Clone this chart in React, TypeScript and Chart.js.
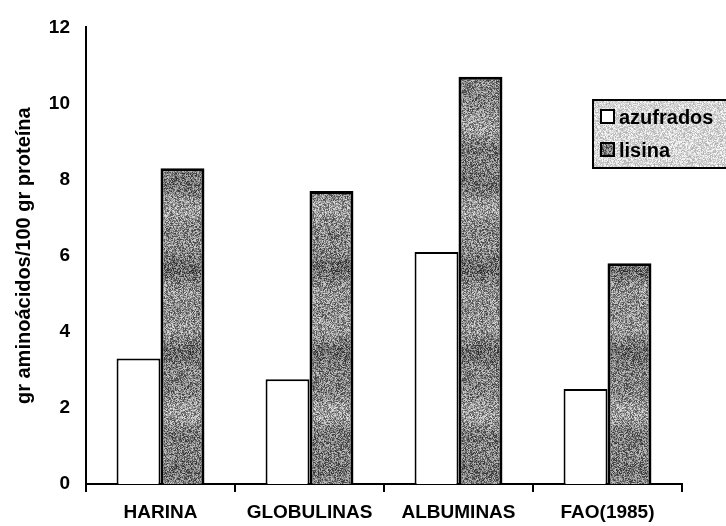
import React, { useEffect, useRef } from "react";
import { Chart, registerables } from "chart.js";

Chart.register(...registerables);

// Amino acid content (g per 100 g protein)
const categories = ["HARINA", "GLOBULINAS", "ALBUMINAS", "FAO(1985)"];
const azufrados = [3.3, 2.75, 6.1, 2.5];
const lisina = [8.3, 7.7, 10.7, 5.8];
const seriesNames = ["azufrados", "lisina"];
const yTickValues = [0, 2, 4, 6, 8, 10, 12];
const yTitle = "gr aminoácidos/100 gr proteína";

const FONT = "'Liberation Sans', Arial, Helvetica, sans-serif";

// deterministic integer hash -> [0,1)
function hash2(x: number, y: number, seed: number): number {
  let h = (x * 374761393 + y * 668265263 + seed * 982451653) | 0;
  h = Math.imul(h ^ (h >>> 13), 1274126177);
  h = h ^ (h >>> 16);
  return (h >>> 0) / 4294967296;
}

// speckled grey texture used for the shaded bars and the legend panel
function makeTexture(w: number, h: number, base: number, spread: number, band: number, seed: number) {
  const c = document.createElement("canvas");
  c.width = w;
  c.height = h;
  const g = c.getContext("2d")!;
  const img = g.createImageData(w, h);
  for (let y = 0; y < h; y++) {
    const wave = band * (Math.sin((y / h) * Math.PI * 2 * 3) * 0.6 + Math.sin((y / h) * Math.PI * 2 * 7 + 1.3) * 0.4);
    for (let x = 0; x < w; x++) {
      const n = hash2(x, y, seed) - 0.5;
      let v = base + wave + n * spread;
      v = Math.max(0, Math.min(255, v));
      const i = (y * w + x) * 4;
      img.data[i] = v;
      img.data[i + 1] = v;
      img.data[i + 2] = v;
      img.data[i + 3] = 255;
    }
  }
  g.putImageData(img, 0, 0);
  return c;
}

export default function App() {
  const ref = useRef<HTMLCanvasElement | null>(null);

  useEffect(() => {
    const canvas = ref.current!;
    const ctx = canvas.getContext("2d")!;
    const barFill = ctx.createPattern(makeTexture(96, 288, 132, 150, 26, 7), "repeat")!;
    const panelFill = ctx.createPattern(makeTexture(64, 64, 214, 80, 0, 3), "repeat")!;

    const fills = ["#ffffff", barFill];

    // boxed legend in the upper right, partly running off the canvas edge
    const boxLegend = {
      id: "boxLegend",
      afterDraw(chart: any) {
        const c = chart.ctx;
        const x = 593, y = 100, w = 140, h = 68;
        c.save();
        c.fillStyle = panelFill;
        c.fillRect(x, y, w, h);
        c.lineWidth = 2;
        c.strokeStyle = "#000";
        c.strokeRect(x, y, w, h);
        c.font = `bold 20px ${FONT}`;
        c.textBaseline = "middle";
        c.textAlign = "left";
        seriesNames.forEach((name, i) => {
          const cy = y + 17 + i * 33;
          c.fillStyle = fills[i];
          c.fillRect(601, cy - 7, 13, 13);
          c.lineWidth = 2;
          c.strokeStyle = "#000";
          c.strokeRect(601, cy - 7, 13, 13);
          c.fillStyle = "#000";
          c.fillText(name, 619, cy + 1);
        });
        c.restore();
      },
    };

    const chart = new Chart(canvas, {
      type: "bar",
      data: {
        labels: categories,
        datasets: [
          {
            label: seriesNames[0],
            data: azufrados,
            backgroundColor: "#ffffff",
            borderColor: "#000000",
            borderWidth: 2,
          },
          {
            label: seriesNames[1],
            data: lisina,
            backgroundColor: barFill,
            borderColor: "#000000",
            borderWidth: 3,
          },
        ],
      },
      options: {
        responsive: false,
        animation: false,
        events: [],
        layout: { padding: { top: 26, right: 44, left: 0, bottom: 0 } },
        datasets: {
          bar: { categoryPercentage: 0.59, barPercentage: 1.0 },
        },
        plugins: {
          legend: { display: false },
          tooltip: { enabled: false },
        },
        scales: {
          x: {
            grid: {
              display: true,
              drawOnChartArea: false,
              drawTicks: true,
              tickLength: 8,
              color: "#000",
              lineWidth: 2,
            },
            border: { display: true, color: "#000", width: 2 },
            ticks: {
              color: "#000",
              font: { family: FONT, size: 19, weight: "bold" },
              padding: 9,
              maxRotation: 0,
            },
            afterFit(scale: any) {
              scale.height = 42;
            },
          },
          y: {
            min: 0,
            max: 12,
            afterBuildTicks(scale: any) {
              scale.ticks = yTickValues.map((v) => ({ value: v }));
            },
            grid: { display: false, drawTicks: false },
            border: { display: true, color: "#000", width: 2 },
            ticks: {
              color: "#000",
              font: { family: FONT, size: 19, weight: "bold" },
              padding: 16,
            },
            title: {
              display: true,
              text: yTitle,
              color: "#000",
              font: { family: FONT, size: 20, weight: "bold" },
              padding: { top: 12, bottom: 0 },
            },
            afterFit(scale: any) {
              scale.width = 86;
            },
          },
        },
      },
      plugins: [boxLegend],
    });

    return () => chart.destroy();
  }, []);

  return (
    <div style={{ position: "absolute", left: 0, top: 0, width: 726, height: 526, background: "#fff" }}>
      <canvas ref={ref} width={726} height={526} style={{ display: "block", width: 726, height: 526 }} />
    </div>
  );
}
